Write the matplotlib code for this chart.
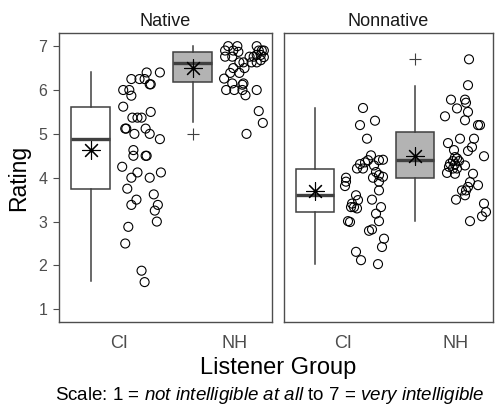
import matplotlib
matplotlib.use("Agg")
import matplotlib.pyplot as plt

plt.rcParams['font.family'] = ['Liberation Sans', 'DejaVu Sans']
plt.rcParams['mathtext.fontset'] = 'custom'
plt.rcParams['mathtext.rm'] = 'Liberation Sans'
plt.rcParams['mathtext.it'] = 'Liberation Sans:italic'

panels = ["Native", "Nonnative"]
groups = ["CI", "NH"]

# per-listener ratings and the horizontal jitter
native_ci_y = [6.25, 6.25, 6.4, 6.4, 6.25, 6.13, 6.13, 6.0, 6.0, 5.87, 5.62, 5.37, 5.37, 5.37,
               5.5, 5.12, 5.12, 5.0, 5.12, 5.0, 4.88, 4.63, 4.5, 4.5, 4.5, 4.25, 4.12, 4.12,
               4.0, 4.0, 3.75, 3.62, 3.5, 3.38, 3.38, 3.25, 3.0, 2.88, 2.5, 1.88, 1.62]
native_ci_jit = [0.40, 0.48, 0.55, 0.68, 0.53, 0.59, 0.58, 0.32, 0.38, 0.40, 0.32, 0.41, 0.46,
                 0.50, 0.59, 0.34, 0.35, 0.43, 0.54, 0.58, 0.68, 0.42, 0.42, 0.54, 0.55, 0.31,
                 0.46, 0.69, 0.40, 0.58, 0.36, 0.62, 0.45, 0.40, 0.66, 0.63, 0.65, 0.37, 0.34,
                 0.50, 0.53]
native_nh_y = [7.0, 7.0, 7.0, 6.9, 6.9, 6.9, 6.9, 6.9, 6.87, 6.8, 6.8, 6.76, 6.76, 6.76, 6.76,
               6.68, 6.63, 6.63, 6.63, 6.63, 6.5, 6.5, 6.39, 6.39, 6.26, 6.15, 6.15, 6.0, 6.0,
               6.0, 6.0, 5.88, 5.52, 5.25, 5.0, 6.12, 6.75]
native_nh_jit = [0.35, 0.44, 0.63, 0.68, 0.70, 0.65, 0.32, 0.40, 0.45, 0.63, 0.67, 0.32, 0.39,
                 0.56, 0.60, 0.67, 0.63, 0.50, 0.46, 0.58, 0.40, 0.51, 0.37, 0.46, 0.31, 0.39,
                 0.50, 0.33, 0.41, 0.49, 0.63, 0.52, 0.65, 0.69, 0.53, 0.49, 0.70]
nonnat_ci_y = [5.59, 5.20, 5.30, 4.89, 4.51, 4.40, 4.41, 4.40, 4.35, 4.31, 4.21, 4.21, 4.28,
               4.13, 4.06, 4.02, 4.00, 3.91, 4.00, 3.91, 3.81, 3.71, 3.60, 3.50, 3.49, 3.41,
               3.33, 3.33, 3.30, 3.33, 3.18, 3.01, 3.01, 2.99, 2.82, 2.79, 2.61, 2.42, 2.31,
               2.12, 2.03]
nonnat_ci_jit = [0.48, 0.45, 0.60, 0.52, 0.56, 0.64, 0.68, 0.53, 0.50, 0.45, 0.42, 0.48, 0.59,
                 0.61, 0.64, 0.68, 0.58, 0.64, 0.31, 0.31, 0.30, 0.64, 0.41, 0.57, 0.43, 0.37,
                 0.36, 0.39, 0.42, 0.66, 0.61, 0.64, 0.33, 0.35, 0.57, 0.54, 0.69, 0.67, 0.41,
                 0.46, 0.63]
nonnat_nh_y = [6.70, 6.11, 5.78, 5.78, 5.58, 5.71, 5.50, 5.40, 5.31, 5.20, 5.20, 4.89, 4.89,
               4.79, 4.70, 4.61, 4.63, 4.49, 4.47, 4.44, 4.38, 4.38, 4.32, 4.31, 4.28, 4.25,
               4.21, 4.21, 4.11, 4.09, 4.09, 3.90, 3.83, 3.79, 3.71, 3.71, 3.60, 3.50, 3.41,
               3.22, 3.12, 3.01]
nonnat_nh_jit = [0.54, 0.53, 0.36, 0.50, 0.42, 0.51, 0.53, 0.30, 0.50, 0.63, 0.65, 0.45, 0.59,
                 0.33, 0.57, 0.53, 0.39, 0.69, 0.40, 0.42, 0.38, 0.44, 0.35, 0.40, 0.50, 0.34,
                 0.38, 0.42, 0.32, 0.40, 0.58, 0.55, 0.63, 0.53, 0.47, 0.51, 0.50, 0.41, 0.69,
                 0.71, 0.67, 0.55]

# box summaries: lower whisker, q1, median, q3, upper whisker, mean, outliers
native_ci_box = [1.64, 3.75, 4.88, 5.62, 6.40, 4.63, []]
native_nh_box = [5.26, 6.19, 6.62, 6.87, 7.00, 6.50, [5.0]]
nonnat_ci_box = [2.03, 3.21, 3.60, 4.19, 5.58, 3.69, []]
nonnat_nh_box = [3.01, 4.00, 4.40, 5.05, 6.09, 4.49, [6.70]]

data = {
    "Native": [(native_ci_y, native_ci_jit, native_ci_box), (native_nh_y, native_nh_jit, native_nh_box)],
    "Nonnative": [(nonnat_ci_y, nonnat_ci_jit, nonnat_ci_box), (nonnat_nh_y, nonnat_nh_jit, nonnat_nh_box)],
}
fills = ["white", "#b3b3b3"]

W, H = 495, 412
fig = plt.figure(figsize=(W / 100, H / 100), dpi=100)
frames = [(59, 272), (284, 493)]
top, bottom = 33, 322
edge = "#404040"

for p, (name, (x0, x1)) in enumerate(zip(panels, frames)):
    ax = fig.add_axes([x0 / W, 1 - bottom / H, (x1 - x0) / W, (bottom - top) / H])
    for g, (ys, jit, box) in enumerate(data[name]):
        pos = g + 1
        lo, q1, med, q3, hi, mean, fl = box
        stats = [dict(whislo=lo, q1=q1, med=med, q3=q3, whishi=hi, fliers=fl, mean=mean)]
        ax.bxp(stats, positions=[pos], widths=0.38, patch_artist=True, showcaps=False,
               showmeans=True,
               boxprops=dict(facecolor=fills[g], edgecolor=edge, linewidth=1.1),
               whiskerprops=dict(color=edge, linewidth=1.1),
               medianprops=dict(color=edge, linewidth=2.4, solid_capstyle='butt'),
               meanprops=dict(marker=(8, 2, 0), markersize=13, markeredgecolor='black',
                              markerfacecolor='black', markeredgewidth=0.8),
               flierprops=dict(marker='+', markersize=8, markeredgecolor=edge,
                               markeredgewidth=0.8))
        ax.scatter([pos + j for j in jit], ys, s=42, facecolors='none',
                   edgecolors='black', linewidths=0.8, zorder=3)
    ax.set_xlim(0.69, 2.78)
    ax.set_ylim(0.71, 7.30)
    ax.set_xticks([1.28, 2.41])
    ax.set_xticklabels(groups, fontsize=13, color="#4d4d4d")
    ax.tick_params(axis='x', length=0, pad=9)
    ax.set_yticks(range(1, 8))
    if p == 0:
        ax.tick_params(axis='y', length=4, color="#4d4d4d", labelsize=11.5,
                       labelcolor="#4d4d4d", pad=4.5)
        ax.set_ylabel("Rating", fontsize=16.5, labelpad=6)
    else:
        ax.tick_params(axis='y', length=0, labelleft=False)
    for s in ax.spines.values():
        s.set_color("#4d4d4d")
        s.set_linewidth(1.0)
    ax.set_title(name, fontsize=13, color="#1a1a1a", pad=5)

fig.text(278 / W, 1 - 368 / H, "Listener Group", ha='center', va='center', fontsize=17)
fig.text(270 / W, 1 - 396 / H,
         "Scale: 1 = $\\it{not\\ intelligible\\ at\\ all}$ to 7 = $\\it{very\\ intelligible}$",
         ha='center', va='center', fontsize=13.5)

fig.savefig("out.png", dpi=100)
